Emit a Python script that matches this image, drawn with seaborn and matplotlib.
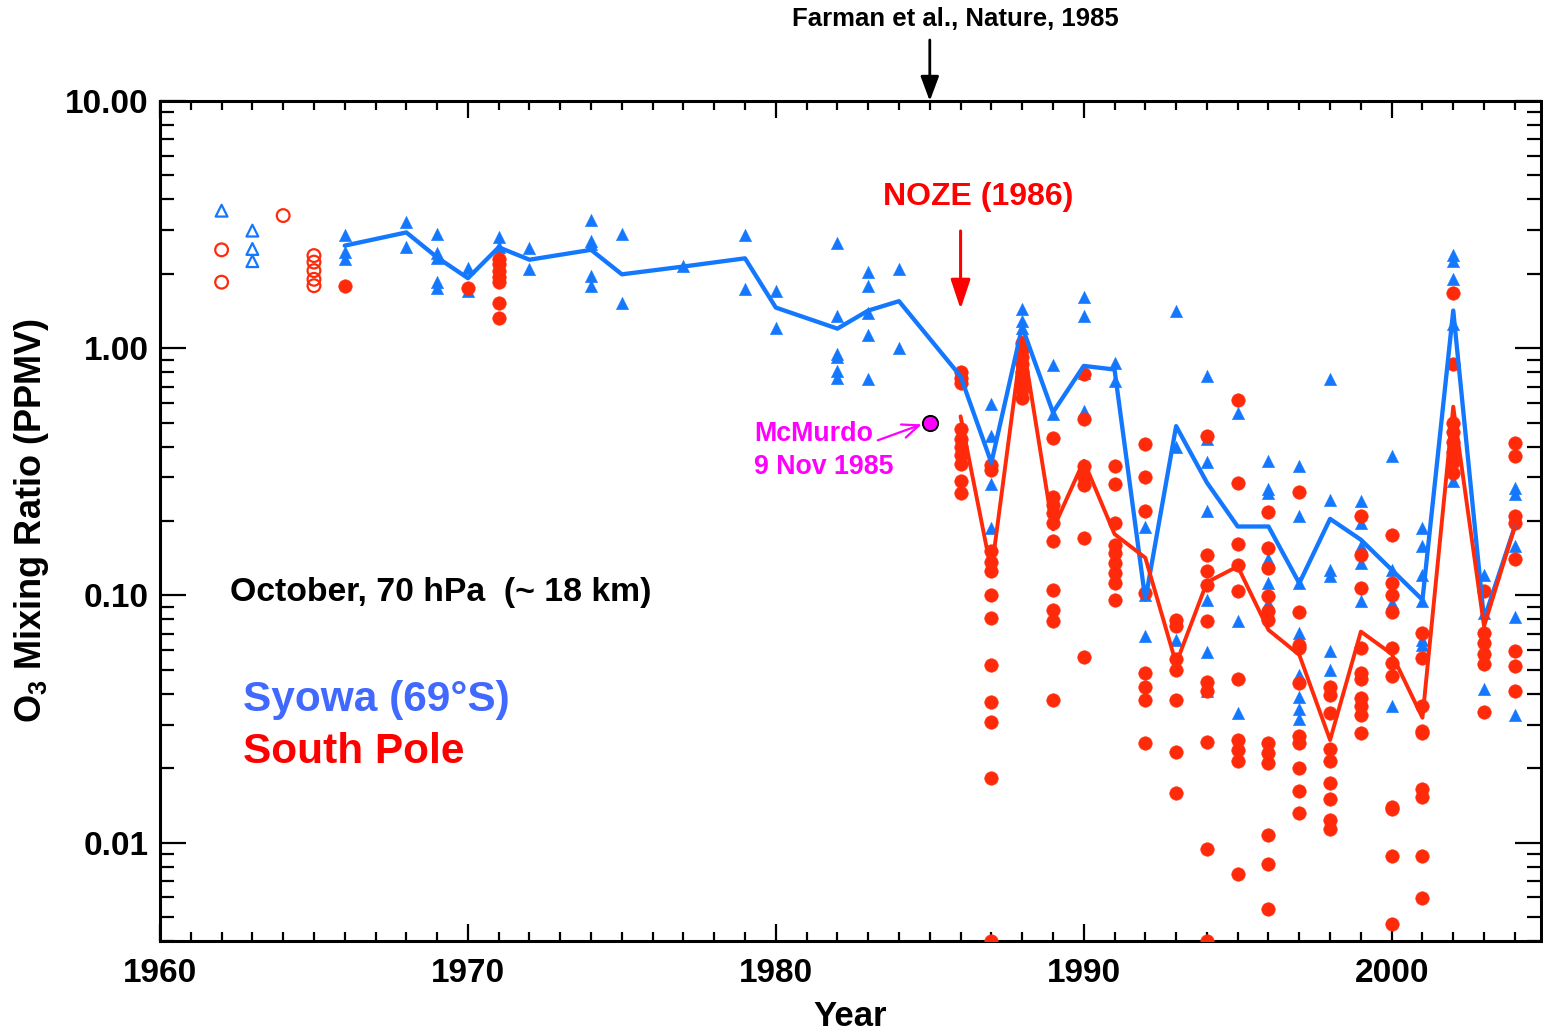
import numpy as np
import pandas as pd
import matplotlib
matplotlib.use("Agg")
import matplotlib.pyplot as plt
from matplotlib.ticker import FixedLocator, FuncFormatter, MultipleLocator, NullFormatter
import seaborn as sns

# ---------------- data ----------------
# Syowa early (open triangles)
syowa_early_years = [1962, 1963, 1963, 1963]
syowa_early_ppmv = [3.60, 2.99, 2.52, 2.25]

# South Pole early (open circles)
sp_early_years = [1962, 1962, 1964, 1965, 1965, 1965, 1965, 1965]
sp_early_ppmv = [2.50, 1.85, 3.44, 2.37, 2.23, 2.06, 1.90, 1.79]

# Syowa individual soundings (filled triangles)
syowa_years = (
    [1966] * 3 + [1968] * 2 + [1969] * 5 + [1970] * 2 + [1971] * 2 + [1972] * 2
    + [1974] * 5 + [1975] * 2 + [1977] + [1979] * 2 + [1980] * 2 + [1982] * 6
    + [1983] * 5 + [1984] * 2 + [1986] + [1987] * 4 + [1988] * 3 + [1989] * 2
    + [1990] * 4 + [1991] * 2 + [1992] * 3 + [1993] * 3 + [1994] * 7 + [1995] * 3
    + [1996] * 6 + [1997] * 8 + [1998] * 6 + [1999] * 5 + [2000] * 4 + [2001] * 6
    + [2002] * 5 + [2003] * 3 + [2004] * 5
)
syowa_ppmv = (
    [2.88, 2.44, 2.29] + [3.25, 2.57] + [2.90, 2.43, 2.31, 1.85, 1.76] + [2.12, 1.71]
    + [2.81, 2.56] + [2.54, 2.09] + [3.30, 2.72, 2.64, 1.96, 1.78] + [2.90, 1.52]
    + [2.15] + [2.88, 1.73] + [1.70, 1.21] + [2.66, 1.35, 0.95, 0.92, 0.81, 0.76]
    + [2.03, 1.79, 1.39, 1.13, 0.75] + [2.09, 1.00] + [0.78]
    + [0.593, 0.441, 0.281, 0.188] + [1.44, 1.29, 1.21] + [0.853, 0.54]
    + [1.61, 1.35, 0.797, 0.557] + [0.875, 0.737] + [0.19, 0.10, 0.0684]
    + [1.42, 0.40, 0.066] + [0.772, 0.43, 0.346, 0.22, 0.096, 0.059, 0.041]
    + [0.549, 0.0787, 0.0335] + [0.349, 0.27, 0.26, 0.141, 0.112, 0.093]
    + [0.335, 0.209, 0.112, 0.0703, 0.0477, 0.0389, 0.0348, 0.0317]
    + [0.753, 0.244, 0.127, 0.12, 0.0595, 0.050] + [0.241, 0.196, 0.158, 0.135, 0.095]
    + [0.366, 0.127, 0.093, 0.0356] + [0.187, 0.158, 0.121, 0.095, 0.066, 0.063]
    + [2.38, 2.25, 1.90, 1.25, 0.29] + [0.121, 0.085, 0.042]
    + [0.272, 0.256, 0.158, 0.082, 0.0329]
)

# South Pole individual soundings (filled circles)
sp_years = (
    [1966] + [1970] + [1971] * 7 + [1986] * 10 + [1987] * 12 + [1988] * 8 + [1989] * 10
    + [1990] * 7 + [1991] * 9 + [1992] * 8 + [1993] * 7 + [1994] * 10 + [1995] * 10
    + [1996] * 12 + [1997] * 10 + [1998] * 9 + [1999] * 10 + [2000] * 11 + [2001] * 9
    + [2002] * 8 + [2003] * 6 + [2004] * 8
)
sp_ppmv = (
    [1.79] + [1.75] + [2.30, 2.20, 2.06, 1.95, 1.85, 1.53, 1.33]
    + [0.80, 0.76, 0.72, 0.47, 0.43, 0.40, 0.37, 0.34, 0.29, 0.26]
    + [0.338, 0.323, 0.151, 0.137, 0.125, 0.1006, 0.081, 0.0524, 0.0372, 0.0309, 0.0182, 0.004]
    + [1.05, 0.98, 0.92, 0.86, 0.80, 0.74, 0.68, 0.63]
    + [0.434, 0.251, 0.233, 0.216, 0.197, 0.166, 0.105, 0.0877, 0.0787, 0.0376]
    + [0.784, 0.515, 0.334, 0.30, 0.28, 0.17, 0.0566]
    + [0.334, 0.281, 0.196, 0.16, 0.148, 0.135, 0.123, 0.112, 0.096]
    + [0.408, 0.30, 0.219, 0.1025, 0.0485, 0.0427, 0.0376, 0.0253]
    + [0.0798, 0.075, 0.0552, 0.050, 0.0376, 0.0232, 0.0159]
    + [0.44, 0.146, 0.125, 0.11, 0.0787, 0.0446, 0.0409, 0.0256, 0.00946, 0.004]
    + [0.617, 0.284, 0.161, 0.133, 0.104, 0.046, 0.0261, 0.0238, 0.0213, 0.00744]
    + [0.217, 0.155, 0.129, 0.099, 0.0866, 0.0798, 0.0253, 0.023, 0.021, 0.0107, 0.0082, 0.0054]
    + [0.262, 0.086, 0.0632, 0.0613, 0.0442, 0.0269, 0.0253, 0.020, 0.0161, 0.0132]
    + [0.0427, 0.0395, 0.0335, 0.024, 0.0213, 0.0174, 0.015, 0.0123, 0.0114]
    + [0.209, 0.146, 0.107, 0.0613, 0.0485, 0.0457, 0.0386, 0.0356, 0.0329, 0.0278]
    + [0.175, 0.112, 0.1006, 0.0853, 0.0613, 0.0533, 0.0472, 0.0139, 0.0137, 0.00886, 0.0047]
    + [0.0703, 0.0557, 0.0356, 0.0283, 0.0278, 0.0165, 0.0153, 0.00886, 0.00599]
    + [1.68, 0.86, 0.50, 0.457, 0.416, 0.379, 0.345, 0.314]
    + [0.104, 0.0707, 0.064, 0.058, 0.053, 0.0337]
    + [0.415, 0.366, 0.209, 0.196, 0.14, 0.0595, 0.0517, 0.0409]
)

# October means (lines)
syowa_mean_years = [1966, 1968, 1969, 1970, 1971, 1972, 1974, 1975, 1977, 1979, 1980, 1982,
                    1983, 1984, 1986, 1987, 1988, 1989, 1990, 1991, 1992, 1993, 1994, 1995,
                    1996, 1997, 1998, 1999, 2000, 2001, 2002, 2003, 2004]
syowa_mean_ppmv = [2.60, 2.94, 2.33, 1.92, 2.56, 2.28, 2.50, 1.99, 2.14, 2.31, 1.46, 1.20,
                   1.42, 1.55, 0.77, 0.344, 1.22, 0.55, 0.848, 0.82, 0.096, 0.484, 0.286, 0.19,
                   0.19, 0.112, 0.204, 0.168, 0.127, 0.096, 1.42, 0.08, 0.19]
sp_mean_years = [1986, 1987, 1988, 1989, 1990, 1991, 1992, 1993, 1994, 1995, 1996, 1997,
                 1998, 1999, 2000, 2001, 2002, 2003, 2004]
sp_mean_ppmv = [0.53, 0.125, 1.10, 0.185, 0.35, 0.177, 0.142, 0.053, 0.113, 0.131, 0.0725,
                0.0575, 0.026, 0.0714, 0.058, 0.032, 0.58, 0.075, 0.19]

# McMurdo single sounding
mcmurdo_year = [1985]
mcmurdo_ppmv = [0.50]

y_major = [0.01, 0.1, 1.0, 10.0]

# ---------------- style ----------------
sns.set_theme(style="ticks")
plt.rcParams["font.family"] = ["Liberation Sans", "DejaVu Sans"]
plt.rcParams["font.weight"] = "bold"
plt.rcParams["mathtext.default"] = "regular"
plt.rcParams["text.color"] = "black"
plt.rcParams["axes.labelcolor"] = "black"

BLUE = "#1478ff"
RED = "#ff2a0a"
TEXT_BLUE = "#4169ff"
MAGENTA = "#ff00ff"

fig = plt.figure(figsize=(15.43, 10.31), dpi=100)
ax = fig.add_axes([160 / 1543, 90 / 1031, 1381 / 1543, 840 / 1031])
ax.set_yscale("log")

df_sy = pd.DataFrame({"year": syowa_years, "ppmv": syowa_ppmv})
df_sp = pd.DataFrame({"year": sp_years, "ppmv": sp_ppmv})
df_sy0 = pd.DataFrame({"year": syowa_early_years, "ppmv": syowa_early_ppmv})
df_sp0 = pd.DataFrame({"year": sp_early_years, "ppmv": sp_early_ppmv})
df_sym = pd.DataFrame({"year": syowa_mean_years, "ppmv": syowa_mean_ppmv})
df_spm = pd.DataFrame({"year": sp_mean_years, "ppmv": sp_mean_ppmv})
df_mc = pd.DataFrame({"year": mcmurdo_year, "ppmv": mcmurdo_ppmv})

sns.scatterplot(data=df_sy, x="year", y="ppmv", marker="^", s=80, color=BLUE,
                edgecolor=BLUE, linewidth=0.3, ax=ax, zorder=2)
sns.scatterplot(data=df_sp, x="year", y="ppmv", marker="o", s=96, color=RED,
                edgecolor=RED, linewidth=0.3, ax=ax, zorder=3)
ax.scatter(df_sy0["year"], df_sy0["ppmv"], marker="^", s=72, facecolors="none",
           edgecolors=BLUE, linewidths=1.6, zorder=3)
ax.scatter(df_sp0["year"], df_sp0["ppmv"], marker="o", s=84, facecolors="none",
           edgecolors=RED, linewidths=1.6, zorder=3)
sns.lineplot(data=df_sym, x="year", y="ppmv", color=BLUE, lw=3.1, ax=ax,
             estimator=None, sort=False, zorder=4)
sns.lineplot(data=df_spm, x="year", y="ppmv", color=RED, lw=2.8, ax=ax,
             estimator=None, sort=False, zorder=5)
sns.scatterplot(data=df_mc, x="year", y="ppmv", marker="o", s=120, color=MAGENTA,
                edgecolor="black", linewidth=1.4, ax=ax, zorder=6)

ax.set_xlim(1960, 2004.85)
ax.set_ylim(0.004, 10)

# ticks
ax.xaxis.set_major_locator(MultipleLocator(10))
ax.xaxis.set_minor_locator(MultipleLocator(1))
ax.yaxis.set_major_locator(FixedLocator(y_major))
ax.yaxis.set_minor_locator(FixedLocator([m * d for d in [0.001, 0.01, 0.1, 1.0] for m in range(2, 10)]))
ax.yaxis.set_major_formatter(FuncFormatter(lambda v, p: f"{v:.2f}"))
ax.yaxis.set_minor_formatter(NullFormatter())
ax.tick_params(axis="both", which="both", direction="in", top=True, right=True,
               width=1.6, colors="black", labelcolor="black")
ax.tick_params(axis="x", which="major", length=12, pad=12, labelsize=24)
ax.tick_params(axis="x", which="minor", length=6.5)
ax.tick_params(axis="y", which="major", length=19, pad=8, labelsize=24)
ax.tick_params(axis="y", which="minor", length=10)
for lab in ax.get_xticklabels() + ax.get_yticklabels():
    lab.set_fontweight("bold")
for sp in ax.spines.values():
    sp.set_linewidth(2.2)
    sp.set_color("black")

ax.set_xlabel("Year", fontsize=25, fontweight="bold", labelpad=8, color="black")
ax.set_ylabel("O$_3$ Mixing Ratio (PPMV)", fontsize=26, fontweight="bold", labelpad=10,
              color="black")

# annotations
fig.text(955 / 1543, 1 - 19 / 1031, "Farman et al., Nature, 1985", ha="center", va="center",
         fontsize=18.5, fontweight="bold", color="black")
ax.annotate("", xy=(1985, 10), xycoords="data",
            xytext=(1985, 1 - 40 / 1031), textcoords=("data", "figure fraction"),
            arrowprops=dict(arrowstyle="-|>,head_length=0.75,head_width=0.28",
                            mutation_scale=20, color="black", lw=2.0, shrinkA=0, shrinkB=0),
            annotation_clip=False)

ax.text(1986.56, 4.1, "NOZE (1986)", ha="center", va="center", fontsize=23,
        fontweight="bold", color="#ff0000")
ax.annotate("", xy=(1986, 1.44), xytext=(1986, 2.98),
            arrowprops=dict(arrowstyle="-|>,head_length=0.9,head_width=0.3",
                            mutation_scale=20, color="#ff0000", lw=2.2, shrinkA=0, shrinkB=0))

ax.text(1979.29, 0.448, "McMurdo", ha="left", va="center", fontsize=19.3,
        fontweight="bold", color=MAGENTA)
ax.text(1979.29, 0.332, "9 Nov 1985", ha="left", va="center", fontsize=19.3,
        fontweight="bold", color=MAGENTA)
ax.annotate("", xy=(1984.74, 0.492), xytext=(1983.31, 0.424),
            arrowprops=dict(arrowstyle="->,head_length=0.6,head_width=0.25",
                            mutation_scale=20, color=MAGENTA, lw=1.6, shrinkA=0, shrinkB=0))

ax.text(1962.27, 0.1026, "October, 70 hPa  (~ 18 km)", ha="left", va="center",
        fontsize=24.3, fontweight="bold", color="black")
ax.text(1962.69, 0.0378, "Syowa (69°S)", ha="left", va="center", fontsize=30.5,
        fontweight="bold", color=TEXT_BLUE)
ax.text(1962.69, 0.02325, "South Pole", ha="left", va="center", fontsize=30.5,
        fontweight="bold", color="#ff0000")

fig.savefig("out.png", dpi=100, facecolor="white")
